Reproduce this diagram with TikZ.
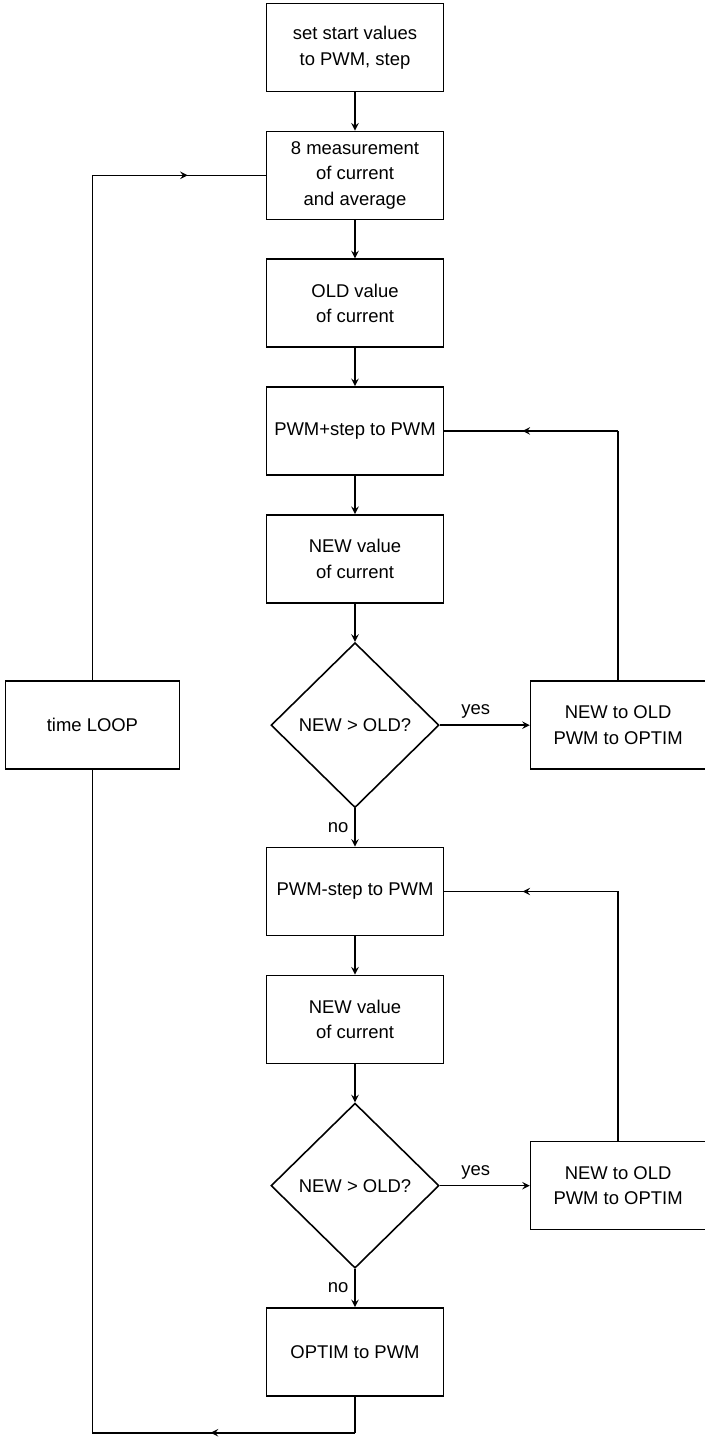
\documentclass[tikz,border=0pt]{standalone}
\usepackage{fontspec}
\setmainfont{Liberation Sans}
\usetikzlibrary{shapes.geometric,arrows,positioning,calc,decorations.markings}

\begin{document}
\begin{tikzpicture}[>=stealth, line width=0.9pt]
    \tikzset{
        block/.style={draw, rectangle, minimum height=1.76cm, minimum width=3.54cm, inner sep=2pt, align=center, font=\fontsize{10.5}{14.5}\selectfont},
        sideblock/.style={draw, rectangle, minimum height=1.76cm, minimum width=3.5cm, inner sep=2pt, align=center, font=\fontsize{10.5}{14.5}\selectfont},
        decision/.style={draw, diamond, aspect=1, inner sep=0pt, minimum width=3.36cm, minimum height=3.3cm, align=center, font=\fontsize{10.5}{14.5}\selectfont},
        line/.style={draw, ->},
        midarrow/.style={postaction={decorate}, decoration={markings, mark=at position 0.55 with {\arrow{stealth}}}},
        lbl/.style={font=\fontsize{10.5}{12}\selectfont}
    }
    \useasboundingbox (0,0) rectangle (14.08,-28.78);
    % main column
    \node [block] (start) at (7.1,-0.95) {set start values\\to PWM, step};
    \node [block, below=0.765cm of start] (meas) {8 measurement\\of current\\and average};
    \node [block, below=0.765cm of meas] (old) {OLD value\\of current};
    \node [block, below=0.765cm of old] (plus) {PWM+step to PWM};
    \node [block, below=0.765cm of plus] (new1) {NEW value\\of current};
    \node [decision, below=0.765cm of new1] (cmp1) {NEW > OLD?};
    \node [block, below=0.765cm of cmp1] (minus) {PWM-step to PWM};
    \node [block, below=0.765cm of minus] (new2) {NEW value\\of current};
    \node [decision, below=0.765cm of new2] (cmp2) {NEW > OLD?};
    \node [block, below=0.765cm of cmp2] (optim) {OPTIM to PWM};
    % side boxes
    \node [sideblock, right=1.8cm of cmp1] (keep1) {NEW to OLD\\PWM to OPTIM};
    \node [sideblock, right=1.8cm of cmp2] (keep2) {NEW to OLD\\PWM to OPTIM};
    \node [sideblock, left=1.8cm of cmp1, minimum width=3.48cm] (loop) {time LOOP};

    \coordinate [below=0.72cm of optim] (bot);
    \coordinate (botl) at (loop |- bot);
    \coordinate (topl) at (loop |- meas);
    \coordinate (top1) at (keep1 |- plus);
    \coordinate (top2) at (keep2 |- minus);

    \path [line] (start) -- (meas);
    \path [line] (meas) -- (old);
    \path [line] (old) -- (plus);
    \path [line] (plus) -- (new1);
    \path [line] (new1) -- (cmp1);
    \path [line] (cmp1) -- node[lbl, left] {no} (minus);
    \path [line] (minus) -- (new2);
    \path [line] (new2) -- (cmp2);
    \path [line] (cmp2) -- node[lbl, left] {no} (optim);
    \path [line] (cmp1) -- node[lbl, above, pos=0.4] {yes} (keep1);
    \path [line] (cmp2) -- node[lbl, above, pos=0.4] {yes} (keep2);

    % loops back
    \draw (keep1.north) -- (top1);
    \draw [midarrow] (top1) -- (plus.east);
    \draw (keep2.north) -- (top2);
    \draw [midarrow] (top2) -- (minus.east);
    \draw (optim.south) -- (bot);
    \draw [midarrow] (bot) -- (botl);
    \draw (botl) -- (loop.south);
    \draw (loop.north) -- (topl);
    \draw [midarrow] (topl) -- (meas.west);
\end{tikzpicture}
\end{document}
